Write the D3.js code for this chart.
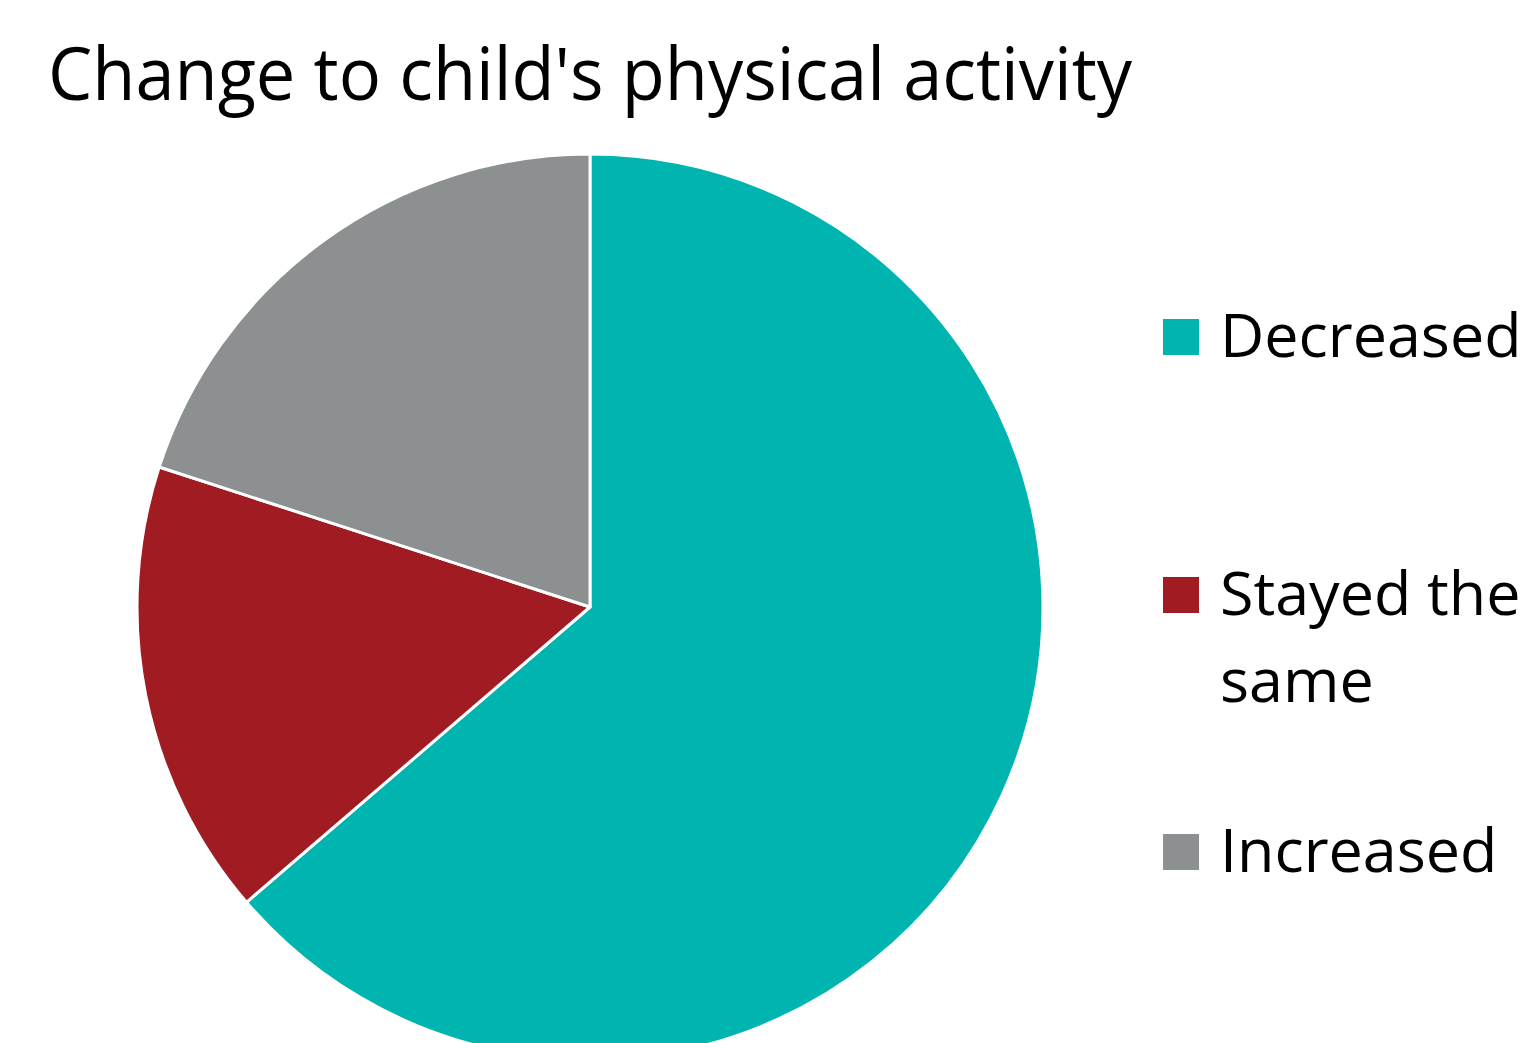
<!DOCTYPE html>
<html>
<head>
<meta charset="utf-8">
<script src="https://cdn.jsdelivr.net/npm/d3@7"></script>
<style>
  body { margin: 0; background: #fff; }
  svg { display: block; }
  text { font-family: "Open Sans", "Noto Sans", sans-serif; fill: #000; }
</style>
</head>
<body>
<svg id="chart"></svg>
<script>
const categories = ['Decreased', 'Stayed the same', 'Increased'];
const values = [63.7, 16.3, 20.0];
const colors = ['#00B5B0', '#A01B22', '#8C9090'];
const legendLines = [['Decreased'], ['Stayed the', 'same'], ['Increased']];

const width = 1528, height = 1043;
const cx = 590, cy = 607, radius = 453;

const svg = d3.select('#chart')
  .attr('width', width)
  .attr('height', height)
  .attr('viewBox', [0, 0, width, height]);

const color = d3.scaleOrdinal().domain(categories).range(colors);

// title
svg.append('text')
  .attr('x', 48)
  .attr('y', 100)
  .attr('font-size', 73)
  .attr('textLength', 1084)
  .attr('lengthAdjust', 'spacingAndGlyphs')
  .text("Change to child's physical activity");

// pie, clockwise from 12 o'clock
const pie = d3.pie().sort(null).value(d => d.value);
const arc = d3.arc().innerRadius(0).outerRadius(radius);

const data = categories.map((c, i) => ({ name: c, value: values[i] }));

svg.append('g')
  .attr('transform', `translate(${cx}, ${cy})`)
  .selectAll('path')
  .data(pie(data))
  .enter().append('path')
  .attr('d', arc)
  .attr('fill', d => color(d.data.name))
  .attr('stroke', '#fff')
  .attr('stroke-width', 3)
  .attr('stroke-linejoin', 'round');

// legend
const legendY = [337, 595, 852];
const legend = svg.append('g');
categories.forEach((c, i) => {
  legend.append('rect')
    .attr('x', 1163)
    .attr('y', legendY[i] - 18)
    .attr('width', 36)
    .attr('height', 36)
    .attr('fill', color(c));
  legendLines[i].forEach((line, j) => {
    legend.append('text')
      .attr('x', 1220)
      .attr('y', legendY[i] + 20 + j * 87)
      .attr('font-size', 61)
      .text(line);
  });
});
</script>
</body>
</html>
